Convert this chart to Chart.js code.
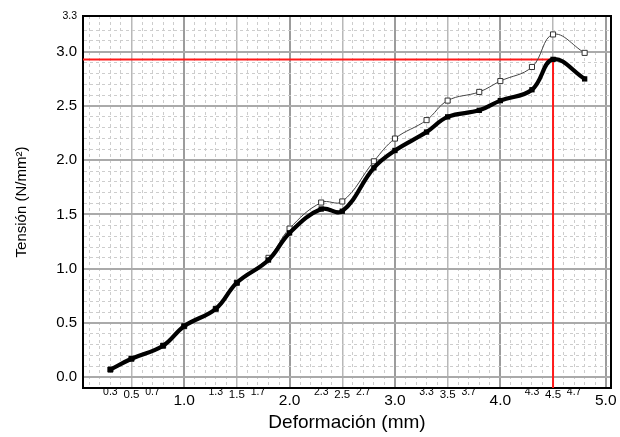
<!DOCTYPE html>
<html><head><meta charset="utf-8">
<script src="https://cdn.jsdelivr.net/npm/chart.js@4/dist/chart.umd.min.js"></script>
<style>html,body{margin:0;padding:0;background:#fff}#wrap{width:620px;height:437px;position:relative}</style>
</head><body><div id="wrap"><canvas id="c"></canvas></div>
<script>
// ---- data ----
const deformacion = [0.3, 0.5, 0.8, 1.0, 1.3, 1.5, 1.8, 2.0, 2.3, 2.5, 2.8, 3.0, 3.3, 3.5, 3.8, 4.0, 4.3, 4.5, 4.8];
const tensionFina = [0.07, 0.17, 0.29, 0.47, 0.63, 0.87, 1.10, 1.37, 1.61, 1.62, 1.99, 2.20, 2.37, 2.55, 2.63, 2.73, 2.86, 3.16, 2.99];
const tensionGruesa = [0.07, 0.17, 0.29, 0.47, 0.63, 0.87, 1.08, 1.33, 1.55, 1.53, 1.93, 2.09, 2.26, 2.40, 2.46, 2.55, 2.65, 2.93, 2.75];
const refX = [4.5];
const refY = [2.93];
// ---- tick labels ----
const xMajorLabels = ['1.0', '2.0', '3.0', '4.0', '5.0'];
const xMidLabels = ['0.5', '1.5', '2.5', '3.5', '4.5'];
const xSmallLabels = ['0.3', '0.7', '1.3', '1.7', '2.3', '2.7', '3.3', '3.7', '4.3', '4.7'];
const yLabels = ['0.0', '0.5', '1.0', '1.5', '2.0', '2.5', '3.0'];
const yTopLabel = '3.3';
const xTitle = 'Deformación (mm)';
const yTitle = 'Tensión (N/mm²)';
// ---- axis ranges ----
const xMin = 0.04, xMax = 5.05, yMin = -0.1, yMax = 3.33;

const FAM = '"Liberation Sans", Arial, sans-serif';
const pts = (ys) => deformacion.map((x, i) => ({x: x, y: ys[i]}));
const key = (v) => v.toFixed(1);
const tenths = (v) => Math.round(v * 10);

function xKind(v) {
  const s = key(v);
  if (xMajorLabels.includes(s)) return 'major';
  if (xMidLabels.includes(s)) return 'mid';
  if (xSmallLabels.includes(s)) return 'small';
  return 'none';
}

const framePlugin = {
  id: 'frame',
  beforeDatasetsDraw(chart) {
    const a = chart.chartArea, c = chart.ctx;
    c.save();
    c.strokeStyle = '#000';
    c.lineWidth = 2;
    c.strokeRect(a.left, a.top, a.right - a.left, a.bottom - a.top);
    c.restore();
  }
};

new Chart(document.getElementById('c'), {
  type: 'line',
  data: {
    datasets: [
      {
        data: pts(tensionGruesa),
        borderColor: '#000', borderWidth: 4.2,
        pointStyle: 'rect', pointRadius: 0.8, pointBackgroundColor: '#000', pointBorderColor: '#000',
        tension: 0.4, order: 1
      },
      {
        data: pts(tensionFina),
        borderColor: '#444', borderWidth: 1,
        pointStyle: 'rect', pointRadius: 3.6, pointBorderWidth: 1,
        pointBackgroundColor: '#fff', pointBorderColor: '#333',
        tension: 0.4, order: 2
      },
      {
        data: [{x: xMin, y: refY[0]}, {x: refX[0], y: refY[0]}, {x: refX[0], y: yMin}],
        borderColor: '#ff1a1a', borderWidth: 2, pointRadius: 0, tension: 0, order: 3
      }
    ]
  },
  options: {
    responsive: true, maintainAspectRatio: false, animation: false,
    layout: {padding: {top: 16, right: 9, bottom: 0, left: 0}},
    plugins: {legend: {display: false}, tooltip: {enabled: false}},
    scales: {
      x: {
        type: 'linear', min: xMin, max: xMax, bounds: 'data',
        afterBuildTicks: (s) => {
          const t = [];
          for (let i = 1; i <= 50; i++) t.push({value: i / 10});
          s.ticks = t;
        },
        afterFit: (s) => { s.height = 49; },
        ticks: {
          autoSkip: false, maxRotation: 0, minRotation: 0, padding: 0, color: '#000',
          callback: (v) => xKind(v) === 'none' ? '' : key(v),
          font: (ctx) => {
            const k = ctx.tick ? xKind(ctx.tick.value) : 'major';
            if (k === 'major') return {family: FAM, size: 15.5, lineHeight: '26px'};
            if (k === 'mid') return {family: FAM, size: 11.5, lineHeight: '13px'};
            return {family: FAM, size: 10.5, lineHeight: '8px'};
          }
        },
        grid: {
          drawTicks: false,
          color: (ctx) => {
            if (!ctx.tick) return '#ccc';
            const t = tenths(ctx.tick.value);
            if (t % 10 === 0) return '#9c9c9c';
            if (t % 5 === 0) return '#b8b8b8';
            return '#cdcdcd';
          },
          lineWidth: (ctx) => {
            if (!ctx.tick) return 1;
            const t = tenths(ctx.tick.value);
            if (t % 10 === 0) return 2;
            if (t % 5 === 0) return 1.5;
            return 1;
          }
        },
        border: {
          display: true, color: '#000', width: 2,
          dash: (ctx) => {
            if (!ctx.tick) return [];
            return tenths(ctx.tick.value) % 5 === 0 ? [] : [3, 3];
          }
        },
        title: {
          display: true, text: xTitle, color: '#000',
          font: {family: FAM, size: 19, lineHeight: 1.2},
          padding: {top: 0, bottom: 3}
        }
      },
      y: {
        type: 'linear', min: yMin, max: yMax, bounds: 'data',
        afterBuildTicks: (s) => {
          const t = [];
          for (let i = 0; i <= 32; i++) t.push({value: i / 10});
          t.push({value: yMax});
          s.ticks = t;
        },
        afterFit: (s) => { s.width = 83; },
        ticks: {
          autoSkip: false, padding: 6, color: '#000',
          callback: (v) => {
            if (v === yMax) return yTopLabel;
            const s = key(v);
            return yLabels.includes(s) ? s : '';
          },
          font: (ctx) => {
            if (ctx.tick && ctx.tick.value === yMax) return {family: FAM, size: 10.5};
            return {family: FAM, size: 15};
          }
        },
        grid: {
          drawTicks: false,
          color: (ctx) => {
            if (!ctx.tick) return '#ccc';
            if (ctx.tick.value === yMax) return 'rgba(0,0,0,0)';
            const t = tenths(ctx.tick.value);
            if (t % 5 === 0) return '#aaaaaa';
            return '#cdcdcd';
          },
          lineWidth: (ctx) => {
            if (!ctx.tick) return 1;
            const t = tenths(ctx.tick.value);
            if (t % 5 === 0) return 2;
            return 1;
          }
        },
        border: {
          display: true, color: '#000', width: 2,
          dash: (ctx) => {
            if (!ctx.tick) return [];
            return tenths(ctx.tick.value) % 5 === 0 ? [] : [3, 3];
          }
        },
        title: {
          display: true, text: yTitle, color: '#000',
          font: {family: FAM, size: 15, lineHeight: 1.2},
          padding: {top: 13, bottom: 0}
        }
      }
    }
  },
  plugins: [framePlugin]
});
</script>
</body></html>
